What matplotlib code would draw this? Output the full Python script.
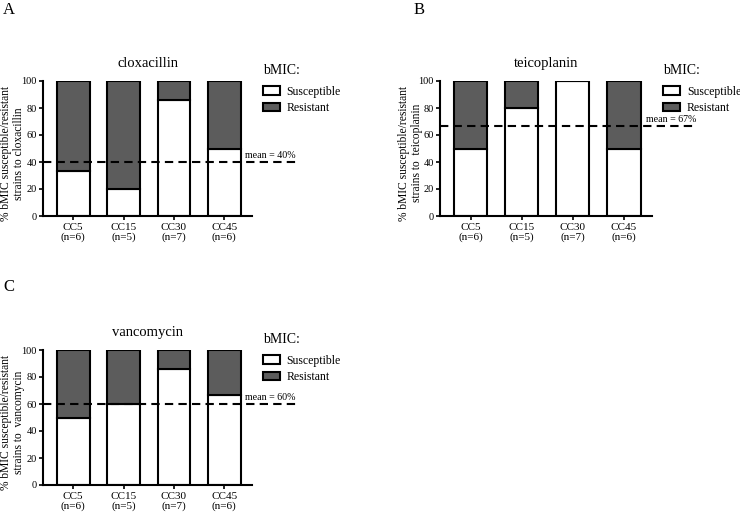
import numpy as np
import matplotlib
matplotlib.use('Agg')
import matplotlib.pyplot as plt

plt.rcParams['font.family'] = ['Liberation Serif', 'DejaVu Serif']

groups = ['CC5\n(n=6)', 'CC15\n(n=5)', 'CC30\n(n=7)', 'CC45\n(n=6)']
drugs = ['cloxacillin', 'teicoplanin', 'vancomycin']
panel_letters = ['A', 'B', 'C']
ylabels = ['% bMIC susceptible/resistant\nstrains to cloxacillin',
           '% bMIC susceptible/resistant\nstrains to  teicoplanin',
           '% bMIC susceptible/resistant\nstrains to  vancomycin']
susc_cloxacillin = [33.3, 20.0, 85.7, 50.0]
susc_teicoplanin = [50.0, 80.0, 100.0, 50.0]
susc_vancomycin = [50.0, 60.0, 85.7, 66.7]
means = [40, 67, 60]
susceptible = [susc_cloxacillin, susc_teicoplanin, susc_vancomycin]

W, H = 740, 513
fig = plt.figure(figsize=(W / 100, H / 100), dpi=100)

# axes boxes in pixels: left, top, right, bottom
boxes = [(43, 81, 252, 216), (440, 81, 652, 216), (43, 350, 252, 485)]
letter_pos = [(3, 10), (414, 10), (3, 287)]
# right edge of the y label (pixels)
ylabel_x = [25.5, 423, 25.5]

dark = '#5c5c5c'
x = np.arange(len(groups))

for i in range(3):
    l, t, r, b = boxes[i]
    ax = fig.add_axes([l / W, 1 - b / H, (r - l) / W, (b - t) / H])
    s = np.array(susceptible[i])
    res = 100 - s
    ax.bar(x, s, width=0.65, color='white', edgecolor='black', linewidth=1.5,
           label='Susceptible', zorder=2)
    ax.bar(x, res, bottom=s, width=0.65, color=dark, edgecolor='black',
           linewidth=1.5, label='Resistant', zorder=2)
    ax.set_xlim(-0.6, 3.55)
    ax.set_ylim(0, 100)
    ax.set_yticks([0, 20, 40, 60, 80, 100])
    ax.set_xticks(x)
    ax.set_xticklabels(groups, fontsize=8, linespacing=1.0)
    ax.tick_params(axis='y', direction='out', length=3, width=1.2,
                   labelsize=7.5, pad=1.5)
    ax.tick_params(axis='x', direction='out', length=3, width=1.2,
                   labelsize=8, pad=2)
    for sp in ['top', 'right']:
        ax.spines[sp].set_visible(False)
    for sp in ['left', 'bottom']:
        ax.spines[sp].set_linewidth(1.5)
    ax.set_title(drugs[i], fontsize=10.5, pad=10)
    ax.set_ylabel(ylabels[i], fontsize=8.3, linespacing=1.15)
    ax.yaxis.set_label_coords((ylabel_x[i] - l) / (r - l), 0.465)

    # mean line extends beyond the axis
    xend = 4.42
    ax.plot([-0.6, xend], [means[i], means[i]], color='black', linestyle='--',
            dashes=(4, 2.5), linewidth=1.5, clip_on=False, zorder=3)
    ax.text(xend, means[i] + 1.5, 'mean = %d%%' % means[i], fontsize=7.2,
            ha='right', va='bottom', clip_on=False)

    # legend with separate heading
    ax.text(1.053, 1.081, 'bMIC:', transform=ax.transAxes, fontsize=10,
            ha='left', va='center')
    ax.legend(loc='upper left', bbox_to_anchor=(1.053, 0.965),
              frameon=False, fontsize=8.5, borderaxespad=0, borderpad=0,
              handlelength=1.4, handletextpad=0.6, labelspacing=0.38)

    lx, ly = letter_pos[i]
    fig.text(lx / W, 1 - ly / H, panel_letters[i], fontsize=12,
             ha='left', va='center')

fig.savefig('out.png', dpi=100)
